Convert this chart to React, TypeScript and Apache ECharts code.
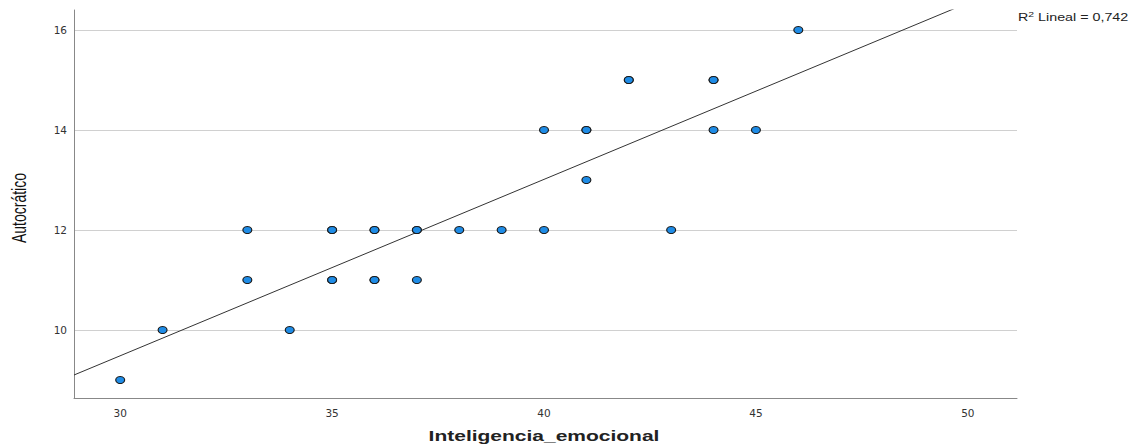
import React, { useEffect, useRef } from "react";
import * as echarts from "echarts";

const points: [number, number][] = [
  [30, 9], [31, 10], [33, 12], [33, 11], [34, 10],
  [35, 12], [35, 12], [35, 11], [35, 11],
  [36, 12], [36, 12], [36, 11], [36, 11],
  [37, 12], [37, 12], [37, 11], [38, 12], [39, 12],
  [40, 14], [40, 12], [41, 14], [41, 14], [41, 13],
  [42, 15], [42, 15], [43, 12], [44, 15], [44, 15], [44, 14],
  [45, 14], [46, 16],
];
const fitLine: [number, number][] = [[28.91, 9.1], [51.16, 16.95]];
const xTicks = [30, 35, 40, 45, 50];
const yTicks = [10, 12, 14, 16];
const r2Text = "0,742";
const xName = "Inteligencia_emocional";
const yName = "Autocrático";

export default function App() {
  const ref = useRef<HTMLDivElement>(null);
  useEffect(() => {
    document.body.style.margin = "0";
    const chart = echarts.init(ref.current!, null, { renderer: "svg" });
    const font = "'Liberation Sans', Arial, sans-serif";
    const wide = "'DejaVu Sans', Verdana, sans-serif";
    chart.setOption({
      animation: false,
      grid: { left: 74, right: 120, top: 10, bottom: 49 },
      xAxis: {
        type: "value",
        min: 28.91,
        max: 51.16,
        axisLine: { show: true, lineStyle: { color: "#888", width: 1 } },
        axisTick: { show: false, customValues: xTicks },
        axisLabel: { customValues: xTicks, fontFamily: wide, fontSize: 10.5, color: "#333", margin: 9 },
        splitLine: { show: false },
      },
      yAxis: {
        type: "value",
        min: 8.64,
        max: 16.4,
        axisLine: { show: true, lineStyle: { color: "#888", width: 1 } },
        axisTick: { show: false, customValues: yTicks },
        axisLabel: { customValues: yTicks, fontFamily: wide, fontSize: 10.5, color: "#333", margin: 7 },
        splitLine: { show: true, lineStyle: { color: "#d0d0d0", width: 1 } },
      },
      series: [
        {
          type: "line",
          data: fitLine,
          showSymbol: false,
          symbol: "none",
          clip: true,
          lineStyle: { color: "#333", width: 1 },
          silent: true,
          z: 2,
        },
        {
          type: "scatter",
          data: points,
          symbol: "circle",
          symbolSize: [9, 7],
          itemStyle: { color: "#1f8ce6", borderColor: "#1a1a1a", borderWidth: 1, opacity: 1 },
          z: 3,
        },
      ],
      graphic: [
        {
          type: "text",
          x: 1018,
          y: 10,
          scaleX: 1.3,
          style: {
            text: "R{sup|2} Lineal = " + r2Text,
            fontFamily: font,
            fontSize: 11,
            fill: "#222",
            rich: { sup: { fontSize: 8, verticalAlign: "top", padding: [0, 0, 6, 0], fontFamily: font, fill: "#222" } },
          },
        },
        {
          type: "text",
          x: 544,
          y: 436,
          scaleX: 1.5,
          style: {
            text: xName,
            fontFamily: font,
            fontSize: 14,
            fontWeight: "bold",
            fill: "#222",
            align: "center",
            verticalAlign: "middle",
          },
        },
        {
          type: "text",
          x: 20,
          y: 208,
          rotation: Math.PI / 2,
          scaleY: 1.4,
          style: {
            text: yName,
            fontFamily: font,
            fontSize: 14,
            fill: "#111",
            align: "center",
            verticalAlign: "middle",
          },
        },
      ],
    });
    return () => chart.dispose();
  }, []);
  return <div ref={ref} style={{ width: 1137, height: 447 }} />;
}
